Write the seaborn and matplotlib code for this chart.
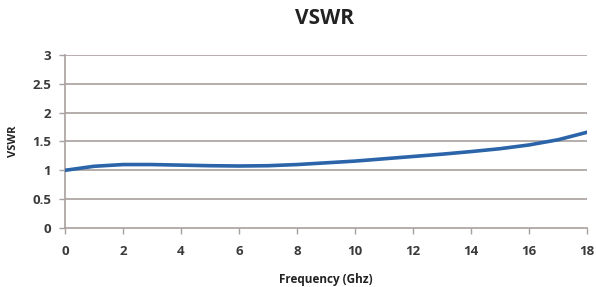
import pandas as pd
import matplotlib
matplotlib.use("Agg")
import matplotlib.pyplot as plt
import seaborn as sns

# 数据：频率 (GHz) 与 VSWR
freq = [0, 1, 2, 3, 4, 5, 6, 7, 8, 9, 10, 11, 12, 13, 14, 15, 16, 17, 18]
vswr = [1.00, 1.07, 1.10, 1.10, 1.09, 1.08, 1.075, 1.08, 1.10, 1.13, 1.16,
        1.20, 1.24, 1.28, 1.325, 1.375, 1.44, 1.53, 1.66]
x_ticks = [0, 2, 4, 6, 8, 10, 12, 14, 16, 18]
y_ticks = [0, 0.5, 1, 1.5, 2, 2.5, 3]
y_labels = ["0", "0.5", "1", "1.5", "2", "2.5", "3"]

df = pd.DataFrame({"freq": freq, "vswr": vswr})

sns.set_theme(style="white")
plt.rcParams["font.family"] = ["Open Sans", "DejaVu Sans"]

fig = plt.figure(figsize=(5.96, 2.87), dpi=100)
ax = fig.add_axes([0.109, 0.2056, 0.876, 0.6028])

grid_color = "#a8a09e"
for y in y_ticks[1:]:
    ax.axhline(y, color=grid_color, lw=1.2, zorder=0)

sns.lineplot(x="freq", y="vswr", data=df, ax=ax, color="#2b64a8", lw=2.6, zorder=3)

ax.set_xlim(0, 18)
ax.set_ylim(0, 3)
ax.set_xticks(x_ticks)
ax.set_yticks(y_ticks)
ax.set_yticklabels(y_labels)

for s in ["top", "right"]:
    ax.spines[s].set_visible(False)
for s in ["left", "bottom"]:
    ax.spines[s].set_color(grid_color)
    ax.spines[s].set_linewidth(1.2)

ax.tick_params(axis="x", direction="out", length=4, width=1, color=grid_color,
               labelsize=9.5, labelcolor="#3a3a3a", pad=8, bottom=True)
ax.tick_params(axis="y", direction="out", length=4, width=1, color=grid_color,
               labelsize=9.5, labelcolor="#3a3a3a", pad=6, left=True)
for lab in ax.get_xticklabels() + ax.get_yticklabels():
    lab.set_fontweight("bold")

ax.set_xlabel("Frequency (Ghz)", fontsize=8.5, fontweight="bold", color="#222222", va="center")
ax.xaxis.set_label_coords(0.5, -0.30)
ax.set_ylabel("VSWR", fontsize=8, fontweight="bold", color="#222222", va="center")
ax.yaxis.set_label_coords(-0.098, 0.5)
fig.text(0.545, 0.937, "VSWR", ha="center", va="center", fontsize=15, fontweight="bold", color="#222222")

fig.savefig("out.png", dpi=100)
